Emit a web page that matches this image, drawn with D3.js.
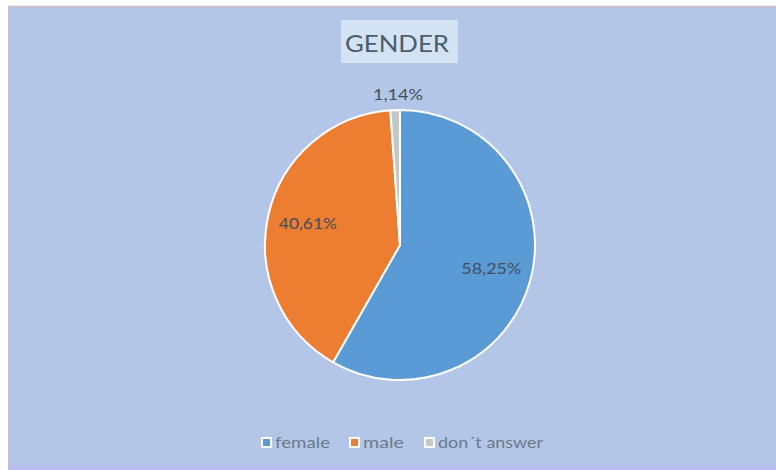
<!DOCTYPE html>
<html><head><meta charset="utf-8">
<script src="https://cdn.jsdelivr.net/npm/d3@7/dist/d3.min.js"></script>
<style>body{margin:0;background:#fff;}svg{display:block;font-family:Lato,"Open Sans",sans-serif;}</style>
</head><body>
<svg id="c" width="776" height="470"></svg>
<script>
const categories = ["female", "male", "don´t answer"];
const values = [58.25, 40.61, 1.14];
const labels = ["58,25%", "40,61%", "1,14%"];
const colors = ["#5b9bd5", "#ed7d31", "#c3c8c6"];
const title = "GENDER";

const svg = d3.select("#c");
// chart area background
svg.append("rect").attr("x", 8).attr("y", 6).attr("width", 768).attr("height", 460)
  .attr("fill", "#b4c6e7");
svg.append("line").attr("x1", 8).attr("x2", 776).attr("y1", 6.5).attr("y2", 6.5)
  .attr("stroke", "#d4b8c4").attr("stroke-width", 1.5);
svg.append("line").attr("x1", 9).attr("x2", 9).attr("y1", 6).attr("y2", 466)
  .attr("stroke", "#cdbfd0").attr("stroke-width", 2);
svg.append("rect").attr("x", 8).attr("y", 465).attr("width", 768).attr("height", 5)
  .attr("fill", "#b7bdf0");

// title
svg.append("rect").attr("x", 341).attr("y", 20).attr("width", 117).attr("height", 43)
  .attr("fill", "#d3e3f3");
svg.append("text").attr("x", 397).attr("y", 52).attr("text-anchor", "middle")
  .attr("font-size", 24).attr("fill", "#4a5d6e")
  .attr("textLength", 104).attr("lengthAdjust", "spacingAndGlyphs").text(title);

const cx = 400, cy = 245, r = 135;
const pie = d3.pie().sort(null).value(d => d)(values);
const arc = d3.arc().innerRadius(0).outerRadius(r);
const g = svg.append("g").attr("transform", `translate(${cx},${cy})`);
g.selectAll("path").data(pie).join("path")
  .attr("d", arc).attr("fill", (d, i) => colors[i])
  .attr("stroke", "#ffffff").attr("stroke-width", 2).attr("stroke-linejoin", "round");

// labels
const labelLen = [60, 58, 50];
const labelArc = d3.arc().innerRadius(r * 0.7).outerRadius(r * 0.7);
g.selectAll("text.lbl").data(pie).join("text").attr("class", "lbl")
  .attr("transform", (d, i) => {
    if (i === 2) return `translate(-2,${-r - 15})`;
    const c = labelArc.centroid(d);
    return `translate(${c[0]},${c[1]})`;
  })
  .attr("text-anchor", "middle").attr("dy", "0.35em")
  .attr("font-size", 15).attr("fill", "#434e5c")
  .attr("textLength", (d, i) => labelLen[i]).attr("lengthAdjust", "spacingAndGlyphs")
  .text((d, i) => labels[i]);

// legend
const legX = [262, 350, 425];
const legLen = [55, 41, 105];
const lg = svg.append("g");
categories.forEach((c, i) => {
  lg.append("rect").attr("x", legX[i]).attr("y", 438).attr("width", 9).attr("height", 9)
    .attr("fill", colors[i]).attr("stroke", "#ffffff").attr("stroke-width", 2);
  lg.append("text").attr("x", legX[i] + 13).attr("y", 448).attr("font-size", 15)
    .attr("fill", "#6b7a8c").attr("textLength", legLen[i])
    .attr("lengthAdjust", "spacingAndGlyphs").text(c);
});
</script>
</body></html>
